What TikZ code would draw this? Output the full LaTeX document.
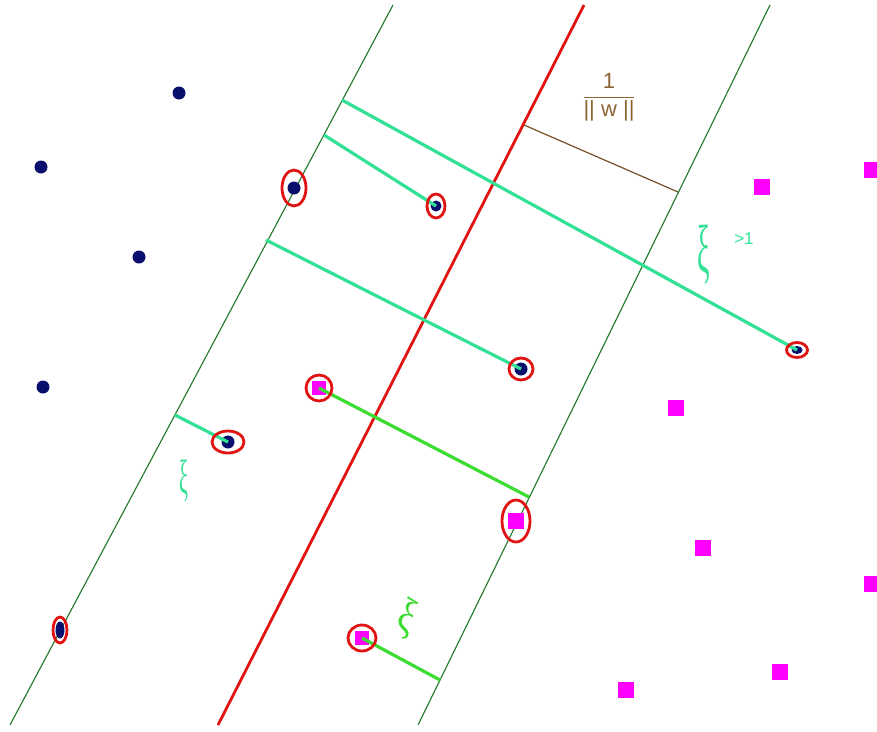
\documentclass[tikz,border=0pt]{standalone}
\usepackage{fontspec}
\setmainfont{Liberation Sans}
\newfontfamily\xifont{Liberation Serif}
\usetikzlibrary{shapes.geometric}
\definecolor{mgreen}{RGB}{30,120,40}
\definecolor{hred}{RGB}{225,20,20}
\definecolor{mint}{RGB}{50,225,150}
\definecolor{lgreen}{RGB}{60,220,50}
\definecolor{navy}{RGB}{10,15,110}
\definecolor{mag}{RGB}{255,0,255}
\definecolor{brownln}{RGB}{120,80,40}
\definecolor{brownlbl}{RGB}{140,100,50}
\begin{document}
\begin{tikzpicture}[x=1pt,y=-1pt,
  margin/.style={draw=mgreen, line width=1.1pt},
  hyper/.style={draw=hred, line width=2.8pt},
  slack/.style={draw=mint, line width=3.2pt},
  slackg/.style={draw=lgreen, line width=3.2pt},
  gap/.style={draw=brownln, line width=1.2pt},
  posdot/.style={ellipse, fill=navy, inner sep=0, minimum width=13pt, minimum height=13pt},
  negsq/.style={rectangle, fill=mag, inner sep=0, minimum size=16pt},
  sv/.style={ellipse, draw=hred, line width=2.8pt, inner sep=0},
  xilbl/.style={text=mint, inner sep=0, transform shape, font=\xifont\fontsize{40}{40}\selectfont}]
\useasboundingbox (0,0) rectangle (877,731);
\fill[white] (0,0) rectangle (877,731);
% margin and separating lines
\coordinate (L1) at (393,5);   \coordinate (L2) at (10,725);
\coordinate (H1) at (584,5);   \coordinate (H2) at (218,725);
\coordinate (R1) at (770,5);   \coordinate (R2) at (418,725);
\draw[margin] (L1) -- (L2);
\draw[margin] (R1) -- (R2);
\draw[hyper] (H1) -- (H2);
% points
\node[posdot] (a1) at (179,93) {};
\node[posdot] (a2) at (41,167) {};
\node[posdot] (a3) at (139,257) {};
\node[posdot] (a4) at (43,387) {};
\node[posdot] (s1) at (294,188) {};
\node[posdot, minimum width=11pt, minimum height=11pt] (s2) at (436,206) {};
\node[posdot] (s3) at (521,369) {};
\node[posdot] (s4) at (228,442) {};
\node[posdot, minimum width=9pt, minimum height=17pt] (s5) at (60,630) {};
\node[posdot, minimum width=11pt, minimum height=8pt] (s6) at (797,350) {};
\node[negsq] (b1) at (762,187) {};
\node[negsq] (b2) at (872,170) {};
\node[negsq] (b3) at (676,408) {};
\node[negsq] (b4) at (703,548) {};
\node[negsq] (b5) at (872,584) {};
\node[negsq] (b6) at (780,672) {};
\node[negsq] (b7) at (626,690) {};
\node[negsq, minimum size=14pt] (t1) at (319,388) {};
\node[negsq] (t2) at (516,521) {};
\node[negsq, minimum size=14pt] (t3) at (362,638) {};
% slack segments
\coordinate (e1) at (342,100);
\coordinate (e2) at (324,135);
\coordinate (e3) at (266,240);
\coordinate (e4) at (175,415);
\coordinate (e5) at (529,497);
\coordinate (e6) at (440,680);
\draw[slack] (e1) -- (s6.center);
\draw[slack] (e2) -- (s2.center);
\draw[slack] (e3) -- (s3.center);
\draw[slack] (e4) -- (s4.center);
\draw[slackg] (t1.center) -- (e5);
\draw[slackg] (t3.center) -- (e6);
% margin width
\coordinate (g1) at (524,125);
\coordinate (g2) at (678,192);
\draw[gap] (g1) -- (g2);
\node[text=brownlbl, inner sep=0, font=\fontsize{22}{22}\selectfont] (wl) at (609,97)
  {$\displaystyle\frac{\textrm{1}}{\textrm{|| w ||}}$};
% support vector rings
\node[sv, minimum width=24pt, minimum height=36pt] (c1) at (s1) {};
\node[sv, minimum width=18pt, minimum height=24pt] (c2) at (s2) {};
\node[sv, minimum width=24pt, minimum height=22pt] (c3) at (s3) {};
\node[sv, minimum width=32pt, minimum height=22pt] (c4) at (s4) {};
\node[sv, minimum width=14pt, minimum height=26pt] (c5) at (s5) {};
\node[sv, minimum width=21pt, minimum height=15pt] (c6) at (s6) {};
\node[sv, minimum width=26pt, minimum height=26pt] (c7) at (t1) {};
\node[sv, minimum width=28pt, minimum height=42pt] (c8) at (t2) {};
\node[sv, minimum width=28pt, minimum height=26pt] (c9) at (t3) {};
% slack labels
\node[xilbl, xscale=0.7, yscale=1.7] (x1) at (704,255) {ξ};
\node[text=mint, inner sep=0, font=\fontsize{17}{17}\selectfont] (gt) at (744,239) {>1};
\node[xilbl, xscale=0.5, yscale=1.2] (x2) at (184,481) {ξ};
\node[xilbl, text=lgreen, xscale=0.9, yscale=1.2, rotate=-25] (x3) at (407,619) {ξ};
\end{tikzpicture}
\end{document}
